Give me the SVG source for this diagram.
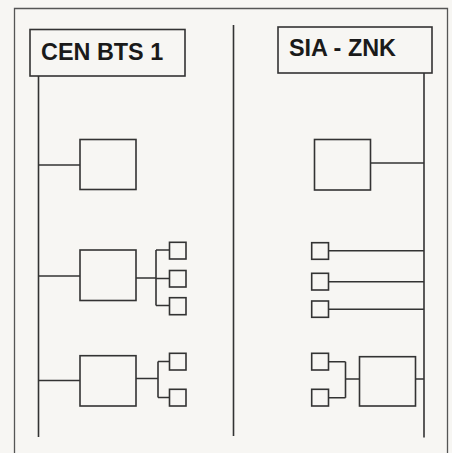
<svg xmlns="http://www.w3.org/2000/svg" width="452" height="453" viewBox="0 0 452 453">
<style>
.ln{stroke:#333;stroke-width:1.6;fill:none}
.bx{stroke:#333;stroke-width:1.6;fill:none}
.frame{stroke:#555;stroke-width:1.3;fill:none}
.t{font-family:"Liberation Sans",Arial,sans-serif;font-weight:bold;font-size:23.4px;fill:#1a1a1a}
</style>
<rect width="452" height="453" fill="#f7f6f3"/>
<path class="frame" d="M14.5,453 V8.5 H447.5 V453"/>
<g id="connectors">
<path class="ln" d="M233.5,25 V436"/>
<path class="ln" d="M38.5,76 V437"/>
<path class="ln" d="M424,73 V437.5"/>
<path class="ln" d="M38.5,165 H80"/>
<path class="ln" d="M38.5,276 H80"/>
<path class="ln" d="M136,278 H156 M156,250 V305.5 M156,250 H169.5 M156,278.5 H169.5 M156,305.5 H169.5"/>
<path class="ln" d="M38.5,380.5 H80"/>
<path class="ln" d="M136,378.5 H158 M158,361.5 V397.5 M158,361.5 H169.5 M158,397.5 H169.5"/>
<path class="ln" d="M370.5,163 H424"/>
<path class="ln" d="M328.5,250.7 H424"/>
<path class="ln" d="M328.5,281.7 H424"/>
<path class="ln" d="M328.5,309.3 H424"/>
<path class="ln" d="M415.5,379 H424 M359.5,379 H345.5 M345.5,361.7 V397.7 M328.5,361.7 H345.5 M328.5,397.7 H345.5"/>
</g>
<g id="cen-bts-1">
<rect class="bx" x="30" y="29.5" width="155" height="46.5"/>
<text class="t" x="41" y="59.5">CEN BTS 1</text>
</g>
<g id="sia-znk">
<rect class="bx" x="278" y="27" width="154" height="46"/>
<text class="t" x="289" y="56">SIA - ZNK</text>
</g>
<g id="l1"><rect class="bx" x="80" y="139.5" width="56" height="50"/></g>
<g id="l2"><rect class="bx" x="80" y="250" width="56" height="50.5"/></g>
<g id="l2a"><rect class="bx" x="169.5" y="242.3" width="16.5" height="16.7"/></g>
<g id="l2b"><rect class="bx" x="169.5" y="270.5" width="16.5" height="16.5"/></g>
<g id="l2c"><rect class="bx" x="169.5" y="297.7" width="16.5" height="17"/></g>
<g id="l3"><rect class="bx" x="80" y="355.7" width="56" height="50.3"/></g>
<g id="l3a"><rect class="bx" x="169.5" y="353.3" width="16.5" height="16.7"/></g>
<g id="l3b"><rect class="bx" x="169.5" y="389.3" width="16.5" height="16.7"/></g>
<g id="r1"><rect class="bx" x="314.5" y="139.5" width="56" height="50.5"/></g>
<g id="r2"><rect class="bx" x="311.7" y="242.7" width="16.8" height="16.6"/></g>
<g id="r3"><rect class="bx" x="311.7" y="273.3" width="16.8" height="16.7"/></g>
<g id="r4"><rect class="bx" x="311.7" y="301" width="16.8" height="16.3"/></g>
<g id="r5"><rect class="bx" x="359.5" y="356.7" width="56" height="49.3"/></g>
<g id="r5a"><rect class="bx" x="311.7" y="353.3" width="16.8" height="16.7"/></g>
<g id="r5b"><rect class="bx" x="311.7" y="389.3" width="16.8" height="16.7"/></g>
</svg>
